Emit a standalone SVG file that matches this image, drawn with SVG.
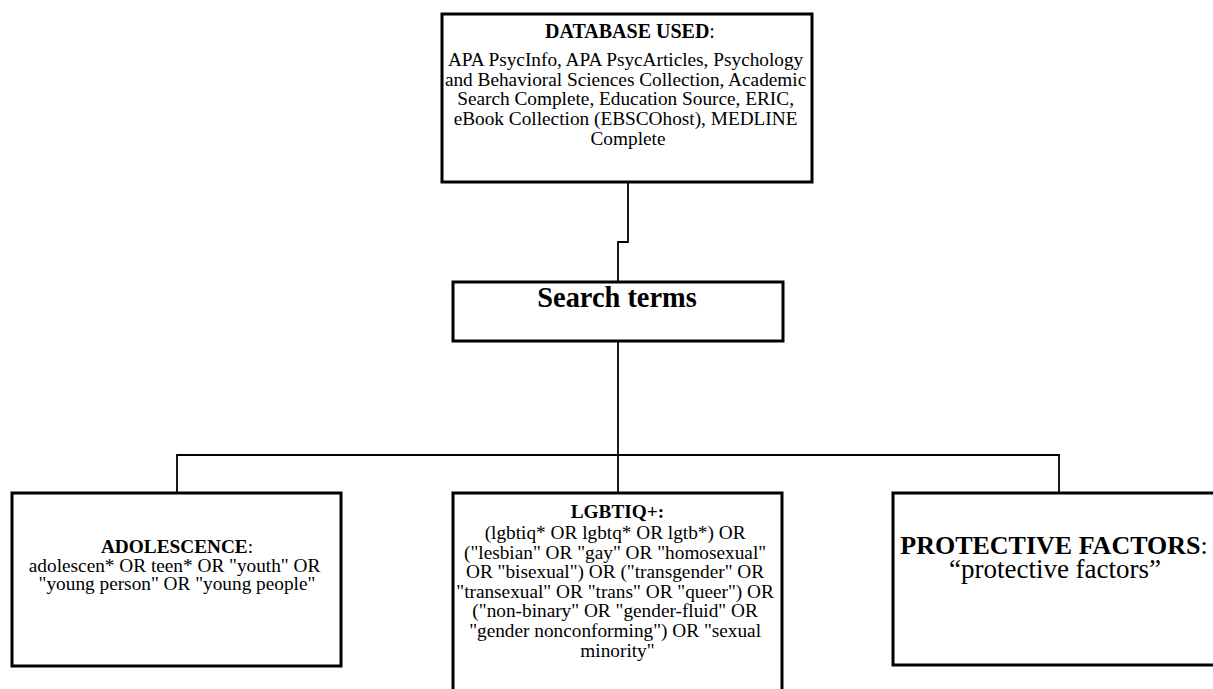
<svg xmlns="http://www.w3.org/2000/svg" width="1213" height="689" viewBox="0 0 1213 689">
<style>
.box{fill:#fff;stroke:#000;stroke-width:3}
.con{fill:none;stroke:#000;stroke-width:1.8}
text{font-family:"Liberation Serif","Times New Roman",serif;fill:#000;text-anchor:middle}
.b{font-weight:bold}
.s19{font-size:19.3px}
</style>
<rect width="1213" height="689" fill="#fff"/>
<g id="connectors">
<polyline class="con" points="628,182 628,242 618,242 618,282"/>
<line class="con" x1="618" y1="341" x2="618" y2="455"/>
<polyline class="con" points="177,493 177,455 1059,455 1059,493"/>
<line class="con" x1="618" y1="455" x2="618" y2="493"/>
</g>
<g id="database">
<rect class="box" x="442" y="14" width="370" height="168"/>
<text x="630" y="38" style="font-size:20px"><tspan class="b">DATABASE USED</tspan>:</text>
<text style="font-size:19.3px">
<tspan x="628" y="66">APA PsycInfo, APA PsycArticles, Psychology</tspan>
<tspan x="628" y="85.6">and Behavioral Sciences Collection, Academic</tspan>
<tspan x="628" y="105.2">Search Complete, Education Source, ERIC,</tspan>
<tspan x="628" y="125">eBook Collection (EBSCOhost), MEDLINE</tspan>
<tspan x="628" y="144.6">Complete</tspan>
</text>
</g>
<g id="search">
<rect class="box" x="453" y="282" width="330" height="59"/>
<text class="b" x="617" y="307" style="font-size:28.4px">Search terms</text>
</g>
<g id="adolescence">
<rect class="box" x="12" y="493" width="329" height="173"/>
<text class="s19" x="177" y="552.5"><tspan class="b">ADOLESCENCE</tspan>:</text>
<text class="s19">
<tspan x="177" y="571.5">adolescen* OR teen* OR "youth" OR</tspan>
<tspan x="177" y="590">"young person" OR "young people"</tspan>
</text>
</g>
<g id="lgbtiq">
<rect class="box" x="453" y="493" width="329" height="210"/>
<text class="s19 b" x="617.5" y="518">LGBTIQ+:</text>
<text class="s19">
<tspan x="617.5" y="539">(lgbtiq* OR lgbtq* OR lgtb*) OR</tspan>
<tspan x="617.5" y="558.6">("lesbian" OR "gay" OR "homosexual"</tspan>
<tspan x="617.5" y="578.2">OR "bisexual") OR ("transgender" OR</tspan>
<tspan x="617.5" y="597.8">"transexual" OR "trans" OR "queer") OR</tspan>
<tspan x="617.5" y="617.4">("non-binary" OR "gender-fluid" OR</tspan>
<tspan x="617.5" y="637">"gender nonconforming") OR "sexual</tspan>
<tspan x="617.5" y="656.6">minority"</tspan>
</text>
</g>
<g id="protective">
<rect class="box" x="893" y="493" width="335" height="172"/>
<text x="1054" y="554" style="font-size:26px"><tspan class="b">PROTECTIVE FACTORS</tspan>:</text>
<text x="1055" y="577.5" style="font-size:27px">“protective factors”</text>
</g>
</svg>
